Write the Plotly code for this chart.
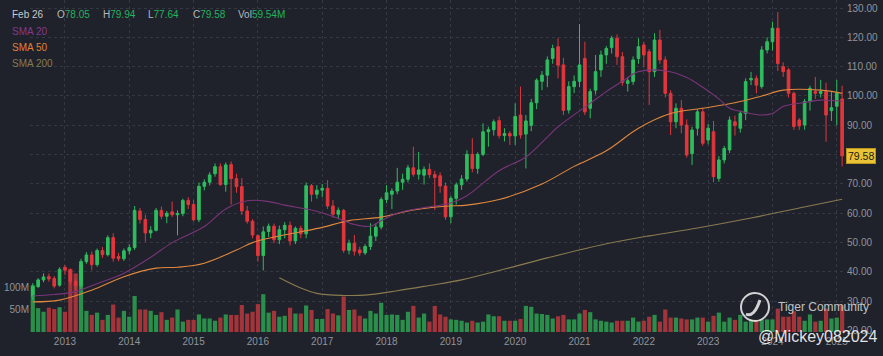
import plotly.graph_objects as go

# ---------------- data ----------------
n_months = 152
months = [f"{2012 + (6 + k) // 12}-{(6 + k) % 12 + 1:02d}" for k in range(n_months)]

opens = [
    31.6, 35.0, 37.3, 38.4, 37.8, 35.5,
    41.6, 40.6, 36.8, 35.3, 43.5, 45.8, 42.5, 47.3, 45.9, 51.7, 45.3, 44.5,
    47.2, 48.3, 60.8, 57.9, 53.3, 54.2, 61.0, 59.0, 60.5, 59.5, 59.9, 64.4,
    63.0, 57.8, 69.2, 70.6, 73.5, 75.9, 69.8, 76.6, 71.8, 69.1, 60.8, 57.3,
    52.4, 45.6, 53.8, 55.6, 51.0, 54.4, 55.9, 50.6, 54.9, 53.0, 69.4, 66.5,
    67.9, 68.5, 62.5, 59.7, 61.0, 47.4, 49.8, 47.5, 46.5, 48.7, 52.2, 55.3,
    64.7, 66.5, 67.6, 70.6, 71.6, 75.5, 73.3, 73.0, 75.0, 73.2, 72.8, 69.3,
    58.8, 65.1, 69.7, 71.7, 80.1, 75.3, 80.1, 87.8, 88.5, 91.6, 86.5, 87.2,
    86.4, 93.5, 87.0, 90.0, 97.7, 105.0, 107.1, 112.8, 116.8, 110.6, 95.2, 103.2,
    105.0, 112.8, 95.8, 102.0, 108.9, 114.0, 116.5, 119.7, 113.4, 104.3, 104.9, 112.8,
    117.4, 115.1, 108.3, 119.1, 112.3, 100.9, 91.2, 95.8, 90.1, 80.4, 89.0, 94.6,
    85.0, 87.8, 71.9, 78.2, 81.6, 91.2, 89.0, 94.1, 105.5, 106.0, 103.2, 115.7,
    118.5, 123.1, 110.0, 108.9, 100.9, 91.8, 90.1, 98.1, 101.5, 100.9, 101.5, 95.0,
    96.5, 99.0,
]
highs = [
    36.2, 37.9, 39.5, 39.5, 38.6, 41.6,
    42.4, 41.2, 37.5, 44.5, 46.8, 47.0, 48.0, 48.5, 52.5, 53.2, 46.5, 48.0,
    49.5, 62.5, 61.8, 59.5, 55.6, 61.8, 62.3, 60.8, 64.0, 61.0, 65.0, 65.5,
    64.5, 70.5, 71.6, 74.0, 77.0, 77.0, 77.3, 77.7, 73.5, 72.0, 62.5, 58.0,
    52.8, 55.5, 56.5, 56.5, 55.8, 57.0, 57.2, 55.5, 55.8, 70.5, 70.0, 69.6,
    70.0, 71.3, 64.5, 62.0, 61.5, 51.0, 52.6, 48.6, 49.5, 56.6, 56.5, 65.5,
    69.6, 68.5, 75.5, 73.5, 76.5, 82.7, 80.9, 76.0, 77.0, 74.5, 74.0, 70.5,
    66.0, 70.5, 73.0, 81.5, 85.6, 80.8, 90.7, 89.5, 92.0, 93.0, 89.0, 88.0,
    97.5, 103.2, 93.5, 99.0, 106.0, 108.5, 113.5, 117.5, 119.7, 113.0, 105.0, 107.0,
    124.5, 118.5, 102.5, 114.0, 115.5, 117.0, 120.5, 121.0, 115.0, 106.5, 113.5, 119.7,
    118.5, 116.0, 121.4, 122.5, 113.5, 102.0, 97.5, 98.6, 92.0, 89.5, 95.5, 96.0,
    90.5, 91.5, 79.5, 83.0, 93.0, 93.3, 95.0, 106.0, 108.2, 107.0, 117.0, 120.0,
    125.3, 128.6, 111.5, 109.5, 101.5, 92.5, 99.0, 103.5, 106.5, 105.5, 104.5, 101.5,
    105.5, 103.5,
]
lows = [
    30.4, 34.6, 36.5, 36.7, 34.4, 35.0,
    39.0, 35.8, 33.8, 33.7, 42.8, 40.6, 41.8, 44.8, 45.3, 43.5, 43.6, 43.8,
    46.0, 47.5, 56.5, 50.3, 51.5, 53.8, 58.0, 56.6, 58.8, 52.5, 59.0, 61.5,
    57.2, 57.0, 67.8, 69.5, 72.5, 69.4, 67.4, 63.0, 67.0, 59.5, 56.5, 51.5,
    43.5, 40.5, 52.0, 49.8, 49.5, 51.5, 49.0, 49.5, 51.5, 51.5, 64.0, 65.0,
    65.5, 61.5, 58.5, 58.2, 46.5, 46.0, 45.6, 45.5, 45.8, 47.5, 50.5, 54.5,
    63.5, 61.5, 66.5, 68.0, 70.5, 72.5, 71.5, 69.8, 72.0, 61.1, 67.0, 57.8,
    56.6, 63.0, 68.0, 70.8, 74.0, 73.5, 79.5, 82.7, 86.5, 85.5, 84.5, 83.3,
    83.3, 85.5, 75.3, 88.0, 95.5, 102.0, 103.0, 111.0, 106.0, 93.5, 94.0, 101.0,
    103.0, 93.5, 92.4, 100.5, 106.5, 111.0, 114.5, 110.6, 103.5, 101.5, 103.8, 111.0,
    110.0, 96.9, 106.5, 111.0, 99.5, 86.7, 89.0, 87.3, 79.0, 76.5, 86.5, 83.0,
    83.5, 70.6, 70.8, 77.0, 80.5, 86.5, 87.5, 91.8, 103.7, 100.9, 102.5, 114.5,
    115.5, 108.5, 106.5, 99.5, 88.5, 88.4, 88.5, 95.0, 99.0, 99.5, 84.4, 91.5,
    90.0, 76.0,
]
closes = [
    35.0, 37.3, 38.3, 37.6, 35.2, 40.9,
    40.6, 36.8, 35.3, 43.6, 45.8, 42.5, 47.3, 45.9, 51.7, 44.7, 44.5, 47.2,
    48.3, 61.0, 57.9, 53.3, 54.2, 61.0, 59.0, 60.0, 59.5, 59.9, 64.4, 63.0,
    57.8, 69.2, 70.6, 73.1, 75.9, 69.8, 76.5, 71.8, 69.1, 60.8, 57.3, 52.6,
    45.6, 53.7, 55.6, 51.0, 54.4, 55.9, 50.6, 54.9, 53.0, 69.4, 66.5, 67.9,
    68.5, 62.5, 59.7, 61.0, 47.4, 49.8, 47.1, 46.5, 48.7, 52.2, 55.3, 64.7,
    67.0, 67.6, 70.6, 71.6, 75.5, 73.3, 74.8, 75.0, 73.2, 72.2, 69.3, 58.8,
    65.1, 69.7, 71.7, 80.1, 75.3, 80.1, 87.8, 88.5, 91.2, 86.5, 87.2, 86.4,
    93.0, 86.7, 91.5, 97.7, 105.4, 107.1, 112.3, 116.2, 110.5, 95.1, 103.2, 105.0,
    110.6, 94.6, 101.5, 108.3, 114.0, 116.2, 119.7, 113.4, 104.6, 105.2, 112.3, 116.8,
    114.0, 108.3, 119.1, 112.3, 100.9, 91.2, 95.8, 90.1, 79.9, 88.4, 94.6, 83.9,
    89.0, 72.5, 78.2, 82.1, 91.8, 89.9, 94.1, 104.9, 106.0, 103.7, 115.7, 118.5,
    123.1, 111.1, 108.3, 100.9, 89.6, 89.8, 98.1, 102.6, 100.9, 101.5, 93.5, 96.0,
    101.0, 79.58,
]
volumes_m = [
    104, 53, 45, 54, 51, 55,
    45, 140, 130, 150, 47, 38, 43, 27, 38, 61, 32, 47,
    34, 80, 50, 50, 47, 38, 44, 27, 32, 50, 23, 27,
    27, 39, 30, 30, 25, 32, 39, 38, 38, 60, 41, 45,
    62, 84, 43, 47, 34, 36, 54, 41, 41, 59, 49, 29,
    29, 51, 41, 37, 79, 49, 50, 36, 30, 47, 41, 65,
    38, 39, 38, 27, 45, 58, 32, 41, 23, 58, 39, 34,
    28, 27, 25, 21, 25, 21, 23, 39, 35, 35, 25, 25,
    25, 29, 58, 56, 41, 40, 38, 30, 35, 38, 28, 28,
    41, 49, 44, 28, 25, 23, 21, 25, 25, 25, 32, 23,
    25, 34, 38, 23, 50, 32, 32, 30, 28, 28, 32, 32,
    23, 36, 43, 23, 32, 27, 38, 23, 27, 27, 28, 28,
    28, 52, 34, 34, 46, 34, 25, 39, 23, 25, 52, 30,
    32, 59.54,
]

sma20_months = ["2012-07", "2012-11", "2013-03", "2013-07", "2013-12", "2014-05", "2014-09",
                "2015-03", "2015-07", "2015-11", "2016-03", "2016-06", "2016-11", "2017-03",
                "2017-07", "2017-10", "2017-12", "2018-03", "2018-06", "2018-10", "2019-01",
                "2019-04", "2019-10", "2020-03", "2020-07", "2020-09", "2021-03", "2021-06",
                "2021-09", "2021-12", "2022-05", "2022-09", "2022-12", "2023-03", "2023-05",
                "2023-08", "2023-11", "2024-01", "2024-03", "2024-06", "2024-10", "2025-02"]
sma20_vals = [31.8, 32.3, 33.3, 36.0, 39.6, 45.0, 50.0,
              55.5, 61.5, 64.3, 64.0, 62.8, 61.1, 58.9,
              56.2, 55.6, 57.5, 60.0, 61.3, 62.5, 63.5,
              66.0, 74.5, 79.2, 86.0, 89.5, 97.5, 101.5,
              105.0, 108.3, 108.6, 106.3, 103.0, 99.0, 95.8,
              94.4, 93.5, 94.0, 96.4, 97.5, 98.6, 98.1]

sma50_months = ["2012-07", "2012-12", "2013-06", "2013-12", "2014-06", "2014-10", "2015-03",
                "2015-09", "2015-12", "2016-03", "2016-09", "2017-01", "2017-06", "2017-12",
                "2018-06", "2018-12", "2019-04", "2019-10", "2020-06", "2020-12", "2021-06",
                "2021-12", "2022-06", "2022-12", "2023-06", "2023-11", "2024-03", "2024-10",
                "2025-02"]
sma50_vals = [29.8, 30.4, 33.8, 38.4, 41.3, 41.6, 43.0,
              47.5, 50.0, 51.5, 53.7, 55.2, 57.5, 58.7,
              61.1, 62.4, 62.8, 64.7, 70.0, 76.0, 81.3,
              89.0, 94.0, 95.8, 97.7, 100.0, 102.0, 102.0,
              100.9]

sma200_months = ["2016-05", "2016-09", "2016-12", "2017-05", "2017-09", "2018-03", "2018-09",
                 "2019-03", "2019-10", "2020-07", "2021-05", "2022-02", "2022-11", "2023-09",
                 "2024-06", "2025-02"]
sma200_vals = [38.0, 34.5, 32.7, 32.0, 32.1, 33.6, 35.4,
               37.3, 40.5, 44.8, 49.2, 52.3, 55.0, 58.4,
               61.8, 64.8]

year_labels = [str(y) for y in range(2013, 2026)]
price_ticks = [20, 30, 40, 50, 60, 70, 80, 90, 100, 110, 120, 130]
vol_ticks_m = [50, 100]

header_date = "Feb 26"
header_keys = ["O", "H", "L", "C", "Vol"]
header_vals = ["78.05", "79.94", "77.64", "79.58", "59.54M"]
last_price = 79.58

# ---------------- styles ----------------
BG = "#1f222a"
GRID = "#343843"
TXT = "#8f949c"
UP = "#2ebd5f"
DOWN = "#e2363c"
VUP = "#2b8f4c"
VDOWN = "#a3343a"
C20 = "#7a347a"
C50 = "#e0873e"
C200 = "#8a7a50"

L, R, T, B = 30, 37, 0, 22
W, H = 883, 356
PW, PH = W - L - R, H - T - B


def ax(px):
    return (px - L) / PW


def ay(py):
    return 1 - (py - T) / PH


volumes = [v * 1e6 for v in volumes_m]
vol_colors = [VUP if c >= o else VDOWN for o, c in zip(opens, closes)]

fig = go.Figure()
fig.add_trace(go.Bar(x=months, y=volumes, marker=dict(color=vol_colors, line=dict(width=0)),
                     xaxis="x", yaxis="y", hoverinfo="skip"))
fig.add_trace(go.Scatter(x=sma200_months, y=sma200_vals, mode="lines",
                         line=dict(color=C200, width=1.1, shape="spline"), yaxis="y2", hoverinfo="skip"))
fig.add_trace(go.Scatter(x=sma50_months, y=sma50_vals, mode="lines",
                         line=dict(color=C50, width=1.1, shape="spline"), yaxis="y2", hoverinfo="skip"))
fig.add_trace(go.Scatter(x=sma20_months, y=sma20_vals, mode="lines",
                         line=dict(color=C20, width=1.1, shape="spline"), yaxis="y2", hoverinfo="skip"))
fig.add_trace(go.Candlestick(
    x=months, open=opens, high=highs, low=lows, close=closes, yaxis="y2",
    increasing=dict(line=dict(color=UP, width=1), fillcolor=UP),
    decreasing=dict(line=dict(color=DOWN, width=1), fillcolor=DOWN),
    whiskerwidth=0, hoverinfo="skip"))

annotations = []
annotations.append(dict(x=ax(10), y=ay(15), xref="paper", yref="paper", text=header_date,
                        showarrow=False, xanchor="left", yanchor="middle",
                        font=dict(size=10, color="#c6c9cf")))
for key, val, px in zip(header_keys, header_vals, [55, 101, 146, 191, 236]):
    annotations.append(dict(x=ax(px), y=ay(15), xref="paper", yref="paper",
                            text=f"{key}<span style='color:#22b35e'>{val}</span>",
                            showarrow=False, xanchor="left", yanchor="middle",
                            font=dict(size=10, color="#b4b8bf")))
for name, col, py in [("SMA 20", "#86388a", 31.5), ("SMA 50", "#e0803a", 47.5), ("SMA 200", "#857a52", 63.3)]:
    annotations.append(dict(x=ax(10), y=ay(py), xref="paper", yref="paper", text=name,
                            showarrow=False, xanchor="left", yanchor="middle",
                            font=dict(size=10, color=col)))
annotations.append(dict(x=ax(846), y=last_price, xref="paper", yref="y2", text=f"{last_price:.2f}",
                        showarrow=False, xanchor="left", yanchor="middle",
                        bgcolor="#e9c335", bordercolor="#b8961c", borderwidth=1, borderpad=1,
                        font=dict(size=10.5, color="#1a1a1a")))
annotations.append(dict(x=ax(776), y=ay(307), xref="paper", yref="paper", text="Tiger Community",
                        showarrow=False, xanchor="left", yanchor="middle",
                        font=dict(size=12, color="rgba(235,235,235,0.8)")))
annotations.append(dict(x=ax(756), y=ay(336), xref="paper", yref="paper", text="@Mickey082024",
                        showarrow=False, xanchor="left", yanchor="middle",
                        font=dict(size=16, color="rgba(255,255,255,0.88)")))

shapes = [
    dict(type="circle", xref="paper", yref="paper", x0=ax(741), x1=ax(769), y0=ay(321), y1=ay(293),
         line=dict(color="rgba(255,255,255,0.8)", width=2)),
    dict(type="path", xref="paper", yref="paper",
         path=f"M {ax(746)} {ay(314)} Q {ax(754)} {ay(318)} {ax(760)} {ay(300)}",
         line=dict(color="rgba(255,255,255,0.8)", width=3)),
]

fig.update_layout(
    width=W, height=H, margin=dict(l=L, r=R, t=T, b=B),
    paper_bgcolor=BG, plot_bgcolor=BG, showlegend=False, hovermode=False,
    bargap=0.22,
    font=dict(family="Arial", size=10, color=TXT),
    xaxis=dict(type="category", categoryorder="array", categoryarray=months,
               range=[-0.52, 151.72], tickvals=[f"{y}-01" for y in year_labels], ticktext=year_labels,
               showgrid=True, gridcolor=GRID, griddash="dot", gridwidth=1,
               zeroline=False, showline=False, ticks="", rangeslider=dict(visible=False),
               tickfont=dict(size=10, color=TXT)),
    yaxis=dict(range=[-4.44e6, 737.8e6], tickvals=[v * 1e6 for v in vol_ticks_m],
               ticktext=[f"{v}M" for v in vol_ticks_m], showgrid=False, zeroline=False,
               side="left", ticks="", tickfont=dict(size=10, color=TXT)),
    yaxis2=dict(range=[18.85, 132.73], overlaying="y", side="right",
                tickvals=price_ticks, ticktext=[f"{v:.2f}" for v in price_ticks],
                showgrid=True, gridcolor=GRID, griddash="dot", gridwidth=1,
                zeroline=False, ticks="", tickfont=dict(size=10, color=TXT)),
    annotations=annotations, shapes=shapes,
)

fig.write_html("out.html", config={"displayModeBar": False},
               post_script="document.body.style.margin='0';document.body.style.padding='0';"
                           "document.body.style.overflow='hidden';")
